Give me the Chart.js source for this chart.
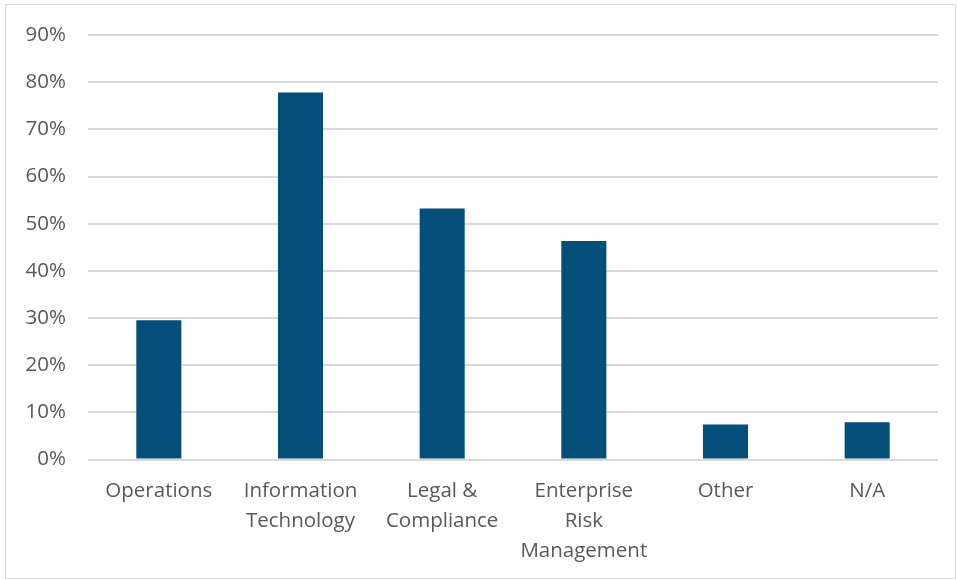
<!DOCTYPE html>
<html>
<head>
<meta charset="utf-8">
<script src="https://cdn.jsdelivr.net/npm/chart.js@4/dist/chart.umd.min.js"></script>
<style>
  html, body { margin: 0; padding: 0; background: #ffffff; }
  #wrap { position: absolute; left: 0; top: 0; width: 957px; height: 579px; }
  #frame { position: absolute; left: 5px; top: 4px; width: 949px; height: 573px; border: 1px solid #d9d9d9; pointer-events: none; }
</style>
</head>
<body>
<div id="wrap">
  <canvas id="c" width="957" height="579"></canvas>
  <div id="frame"></div>
</div>
<script>
const categories = [
  "Operations",
  ["Information", "Technology"],
  ["Legal &", "Compliance"],
  ["Enterprise", "Risk", "Management"],
  "Other",
  "N/A"
];
const values = [29.5, 77.8, 53.2, 46.3, 7.4, 7.9];
const yTicks = [0, 10, 20, 30, 40, 50, 60, 70, 80, 90];

const fontFamily = "'Open Sans', 'DejaVu Sans', sans-serif";

new Chart(document.getElementById('c'), {
  type: 'bar',
  data: {
    labels: categories,
    datasets: [{
      data: values,
      backgroundColor: '#044e7a',
      borderWidth: 0,
      barPercentage: 0.318,
      categoryPercentage: 1.0
    }]
  },
  options: {
    responsive: false,
    animation: false,
    layout: { padding: { left: 0, right: 19, top: 35, bottom: 0 } },
    plugins: { legend: { display: false }, tooltip: { enabled: false } },
    scales: {
      x: {
        grid: { display: false, drawTicks: false },
        border: { display: false },
        ticks: {
          color: '#595959',
          font: { family: fontFamily, size: 20.5, lineHeight: 1.45 },
          padding: 17,
          maxRotation: 0,
          autoSkip: false
        },
        afterFit: s => { s.height = 119.5; }
      },
      y: {
        min: 0,
        max: 90,
        afterBuildTicks: s => { s.ticks = yTicks.map(v => ({ value: v })); },
        grid: { color: '#d9d9d9', lineWidth: 2, drawTicks: false },
        border: { display: false },
        ticks: {
          color: '#595959',
          font: { family: fontFamily, size: 20.5 },
          padding: 22,
          callback: v => v + '%'
        },
        afterFit: s => { s.width = 88; }
      }
    }
  }
});
</script>
</body>
</html>
